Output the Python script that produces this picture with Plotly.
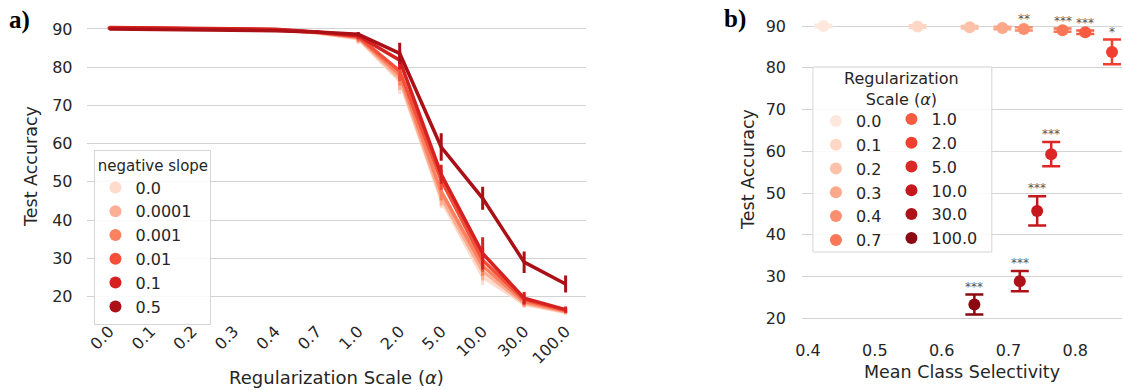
import plotly.graph_objects as go
from plotly.colors import sample_colorscale, make_colorscale
import plotly.express as px

# ---------------- Panel a) data ----------------
reg_scales = ["0.0", "0.1", "0.2", "0.3", "0.4", "0.7", "1.0", "2.0", "5.0", "10.0", "30.0", "100.0"]
slopes = ["0.0", "0.0001", "0.001", "0.01", "0.1", "0.5"]

acc_s0 = [90.3, 90.2, 90.1, 90.0, 89.8, 89.0, 87.4, 76.4, 45.3, 25.2, 18.0, 15.8]
acc_s1 = [90.3, 90.2, 90.1, 90.0, 89.8, 89.0, 87.6, 77.0, 46.0, 26.6, 18.3, 16.0]
acc_s2 = [90.3, 90.2, 90.1, 90.0, 89.8, 89.1, 87.8, 78.0, 47.5, 28.0, 18.7, 16.2]
acc_s3 = [90.3, 90.2, 90.1, 90.0, 89.8, 89.1, 88.0, 79.0, 50.5, 29.5, 19.2, 16.4]
acc_s4 = [90.4, 90.3, 90.2, 90.0, 89.9, 89.2, 88.2, 81.8, 52.0, 31.3, 19.6, 16.6]
acc_s5 = [90.0, 89.9, 89.8, 89.7, 89.5, 89.2, 88.6, 83.6, 59.1, 45.7, 29.0, 23.3]

err_s0 = [0.2, 0.2, 0.2, 0.2, 0.2, 0.4, 1.4, 3.4, 2.2, 2.2, 1.0, 0.6]
err_s1 = [0.2, 0.2, 0.2, 0.2, 0.2, 0.4, 1.3, 3.0, 2.2, 2.4, 1.0, 0.6]
err_s2 = [0.2, 0.2, 0.2, 0.2, 0.2, 0.4, 1.2, 2.8, 2.4, 2.6, 1.2, 0.6]
err_s3 = [0.2, 0.2, 0.2, 0.2, 0.2, 0.4, 1.0, 2.6, 2.6, 3.0, 1.4, 0.7]
err_s4 = [0.2, 0.2, 0.2, 0.2, 0.2, 0.4, 0.8, 2.4, 2.5, 4.2, 1.6, 0.8]
err_s5 = [0.2, 0.2, 0.2, 0.2, 0.2, 0.4, 0.6, 2.8, 3.6, 3.0, 2.8, 2.2]

acc_a = [acc_s0, acc_s1, acc_s2, acc_s3, acc_s4, acc_s5]
err_a = [err_s0, err_s1, err_s2, err_s3, err_s4, err_s5]

# ---------------- Panel b) data ----------------
alphas = ["0.0", "0.1", "0.2", "0.3", "0.4", "0.7", "1.0", "2.0", "5.0", "10.0", "30.0", "100.0"]
selectivity = [0.423, 0.564, 0.642, 0.691, 0.723, 0.781, 0.815, 0.855, 0.764, 0.743, 0.717, 0.649]
accuracy_b = [90.0, 89.9, 89.7, 89.5, 89.3, 89.0, 88.5, 83.8, 59.3, 45.7, 28.9, 23.3]
err_b = [0.3, 0.3, 0.3, 0.3, 0.4, 0.4, 0.4, 2.95, 2.9, 3.5, 2.45, 2.4]
signif = ["", "", "", "", "**", "***", "***", "*", "***", "***", "***", "***"]

# ---------------- styling ----------------
W, H = 1123, 390
reds = make_colorscale(px.colors.sequential.Reds)
cols_a = sample_colorscale(reds, [(i + 1) / 7 for i in range(6)])
cols_b = sample_colorscale(reds, [(i + 1) / 13 for i in range(12)])
TXT = "#262626"
GRID = "#d3d3d3"
FONT = "DejaVu Sans"

def px_x(p):
    return p / W

def px_y(p):
    return 1 - p / H

fig = go.Figure()

# panel a lines
for i, s in enumerate(slopes):
    fig.add_trace(go.Scatter(
        x=reg_scales, y=acc_a[i], mode="lines",
        line=dict(color=cols_a[i], width=3.5),
        error_y=dict(type="data", array=err_a[i], color=cols_a[i], thickness=3, width=0),
        xaxis="x", yaxis="y", showlegend=False, hoverinfo="skip"))
# panel a legend entries
for i, s in enumerate(slopes):
    fig.add_trace(go.Scatter(
        x=[None], y=[None], mode="markers", name=s,
        marker=dict(color=cols_a[i], size=12),
        xaxis="x", yaxis="y", legend="legend", showlegend=True))

# panel b points
for i, a in enumerate(alphas):
    fig.add_trace(go.Scatter(
        x=[selectivity[i]], y=[accuracy_b[i]], mode="markers", name=a,
        marker=dict(color=cols_b[i], size=12),
        error_y=dict(type="data", array=[err_b[i]], color=cols_b[i], thickness=2.5, width=9),
        xaxis="x2", yaxis="y2",
        legend="legend2" if i < 6 else "legend3", showlegend=True))

annotations = []
for i, a in enumerate(alphas):
    if signif[i]:
        annotations.append(dict(
            x=selectivity[i], y=accuracy_b[i] + err_b[i], xref="x2", yref="y2",
            text=signif[i], showarrow=False, yanchor="bottom", yshift=-1,
            font=dict(family=FONT, size=12, color="#555555")))

# panel labels
annotations.append(dict(x=px_x(0), y=px_y(20), xref="paper", yref="paper", text="<b>a)</b>",
                        showarrow=False, xanchor="left", yanchor="middle",
                        font=dict(family="Liberation Serif", size=25, color="black")))
annotations.append(dict(x=px_x(719), y=px_y(19), xref="paper", yref="paper", text="<b>b)</b>",
                        showarrow=False, xanchor="left", yanchor="middle",
                        font=dict(family="Liberation Serif", size=25, color="black")))
# legend b title
annotations.append(dict(x=px_x(900), y=px_y(89), xref="paper", yref="paper",
                        text="Regularization<br>Scale (<i>α</i>)", showarrow=False,
                        xanchor="center", yanchor="middle",
                        font=dict(family=FONT, size=16, color=TXT)))

shapes = [dict(type="rect", xref="paper", yref="paper",
               x0=px_x(811), x1=px_x(991), y0=px_y(252), y1=px_y(67),
               fillcolor="rgba(255,255,255,0.85)", line=dict(color="#d5d5d5", width=1),
               layer="above")]

axis_common = dict(showgrid=True, gridcolor=GRID, gridwidth=1.3, zeroline=False,
                   showline=False, ticks="", tickfont=dict(family=FONT, size=16, color=TXT))

fig.update_layout(
    width=W, height=H, margin=dict(l=0, r=0, t=0, b=0),
    paper_bgcolor="white", plot_bgcolor="white",
    font=dict(family=FONT, color=TXT),
    xaxis=dict(domain=[px_x(80), px_x(583)], type="category", range=[-0.55, 11.5],
               showgrid=False, zeroline=False, showline=False, ticks="",
               tickangle=-45, tickfont=dict(family=FONT, size=16, color=TXT), ticklabelstandoff=0,
               title=dict(text="Regularization Scale (<i>α</i>)", font=dict(family=FONT, size=18, color=TXT),
                          standoff=4),
               anchor="y"),
    yaxis=dict(domain=[px_y(318), px_y(14)], range=[14.4, 93.9],
               tickvals=[20, 30, 40, 50, 60, 70, 80, 90], ticklabelstandoff=13,
               title=dict(text="Test Accuracy", font=dict(family=FONT, size=17.5, color=TXT), standoff=10),
               anchor="x", **axis_common),
    xaxis2=dict(domain=[px_x(800), px_x(1122)], range=[0.391, 0.870],
                tickvals=[0.4, 0.5, 0.6, 0.7, 0.8], showgrid=False, zeroline=False, showline=False,
                ticks="", tickfont=dict(family=FONT, size=16, color=TXT), ticklabelstandoff=6,
                title=dict(text="Mean Class Selectivity", font=dict(family=FONT, size=17.5, color=TXT),
                           standoff=6),
                anchor="y2"),
    yaxis2=dict(domain=[px_y(333), px_y(5)], range=[16.48, 95.03],
                tickvals=[20, 30, 40, 50, 60, 70, 80, 90], ticklabelstandoff=15,
                title=dict(text="Test Accuracy", font=dict(family=FONT, size=17.5, color=TXT), standoff=6),
                anchor="x2", **axis_common),
    legend=dict(x=px_x(88), y=px_y(150), xanchor="left", yanchor="top",
                bgcolor="rgba(255,255,255,0.85)", bordercolor="#d5d5d5", borderwidth=1,
                font=dict(family=FONT, size=16, color=TXT),
                title=dict(text="negative slope", side="top center", font=dict(family=FONT, size=15, color=TXT)),
                itemsizing="constant", tracegroupgap=0),
    legend2=dict(x=px_x(814), y=px_y(104), xanchor="left", yanchor="top",
                 bgcolor="rgba(0,0,0,0)", borderwidth=0,
                 font=dict(family=FONT, size=16, color=TXT), itemsizing="constant"),
    legend3=dict(x=px_x(890), y=px_y(102), xanchor="left", yanchor="top",
                 bgcolor="rgba(0,0,0,0)", borderwidth=0,
                 font=dict(family=FONT, size=16, color=TXT), itemsizing="constant"),
    annotations=annotations,
    shapes=shapes,
)

fig.write_html("out.html", config={"displayModeBar": False},
               post_script="document.body.style.margin='0';document.body.style.padding='0';")
